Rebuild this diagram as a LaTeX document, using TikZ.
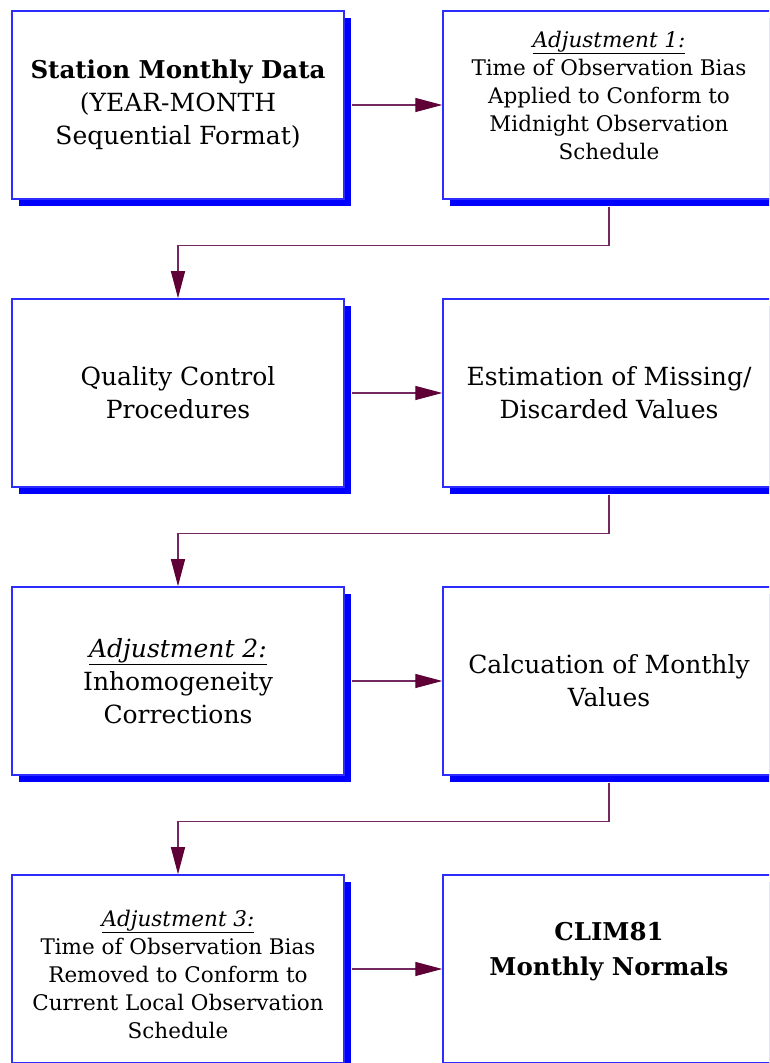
\documentclass[tikz,border=0pt]{standalone}
\usepackage{fontspec}
\setmainfont{DejaVu Serif}
\usetikzlibrary{arrows.meta,shadows}

\definecolor{boxblue}{RGB}{45,45,255}
\definecolor{shadeblue}{RGB}{0,0,255}
\definecolor{flowline}{RGB}{115,40,95}
\definecolor{flowtip}{RGB}{95,0,55}

\newcommand{\adjtitle}[1]{\underline{\textit{Adjustment #1:}}}

\tikzset{
  flowbox/.style={draw=boxblue, line width=1.5pt, fill=white,
    minimum width=332pt, minimum height=188pt, inner sep=0pt,
    drop shadow={shadow xshift=7pt, shadow yshift=-7pt, fill=shadeblue, opacity=1}},
  bigtext/.style={align=center, font=\fontsize{25}{33}\selectfont},
  boldtext/.style={align=center, font=\fontsize{24.5}{35}\selectfont\bfseries},
  smalltext/.style={align=center, font=\fontsize{21.5}{28}\selectfont},
  flow/.style={draw=flowline, line width=1.3pt,
    -{Triangle[length=27pt,width=14pt,fill=flowtip,color=flowtip]}},
}

\begin{document}
\begin{tikzpicture}[x=1pt,y=1pt]
  \useasboundingbox (0,0) rectangle (769,1063);
  \clip (0,0) rectangle (769,1063);

  % boxes, two columns
  \node[flowbox] (station) at (178,958) {};
  \node[flowbox] (adj1)    at (609,958) {};
  \node[flowbox] (qc)      at (178,670) {};
  \node[flowbox] (missing) at (609,670) {};
  \node[flowbox] (adj2)    at (178,382) {};
  \node[flowbox] (calc)    at (609,382) {};
  \node[flowbox] (adj3)    at (178,94) {};
  \node[flowbox] (clim)    at (609,94) {};

  % texts
  \node[bigtext] (stationT) at (station) {{\fontsize{24.5}{33}\selectfont\bfseries Station Monthly Data}\\(YEAR-MONTH\\Sequential Format)};
  \node[smalltext,yshift=10pt] (adj1T) at (adj1) {\adjtitle{1}\\Time of Observation Bias\\Applied to Conform to\\Midnight Observation\\Schedule};
  \node[bigtext] (qcT) at (qc) {Quality Control\\Procedures};
  \node[bigtext] (missingT) at (missing) {Estimation of Missing/\\Discarded Values};
  \node[bigtext] (adj2T) at (adj2) {\adjtitle{2}\\Inhomogeneity\\Corrections};
  \node[bigtext] (calcT) at (calc) {Calcuation of Monthly\\Values};
  \node[smalltext,yshift=-5pt] (adj3T) at (adj3) {\adjtitle{3}\\Time of Observation Bias\\Removed to Conform to\\Current Local Observation\\Schedule};
  \node[boldtext,yshift=17pt] (climT) at (clim) {CLIM81\\Monthly Normals};

  % connectors
  \draw[flow] ([xshift=7pt]station.east) -- (adj1.west);
  \draw[flow] ([yshift=-7pt]adj1.south) -- ++(0,-39) -| (qc.north);
  \draw[flow] ([xshift=7pt]qc.east) -- (missing.west);
  \draw[flow] ([yshift=-7pt]missing.south) -- ++(0,-39) -| (adj2.north);
  \draw[flow] ([xshift=7pt]adj2.east) -- (calc.west);
  \draw[flow] ([yshift=-7pt]calc.south) -- ++(0,-39) -| (adj3.north);
  \draw[flow] ([xshift=7pt]adj3.east) -- (clim.west);
\end{tikzpicture}
\end{document}
